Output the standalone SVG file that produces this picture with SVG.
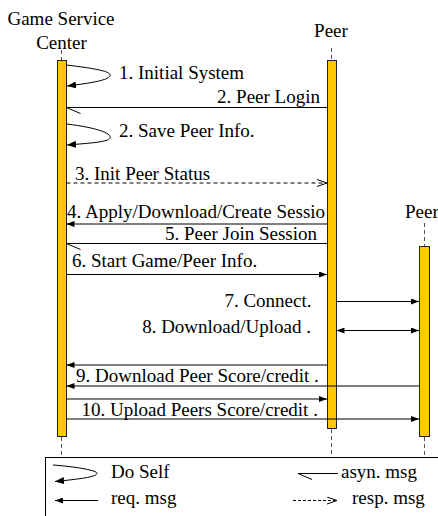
<svg xmlns="http://www.w3.org/2000/svg" width="438" height="516" viewBox="0 0 438 516">
  <style>
    text { font-family: "Liberation Serif", serif; font-size: 19px; fill: #000; }
    .bar { fill: #FFC800; stroke: #222; stroke-width: 1; }
    .life { stroke: #555; stroke-width: 1; stroke-dasharray: 4 3; fill: none; }
    .msg { stroke: #000; stroke-width: 1; fill: none; }
    .req { marker-end: url(#arrow); }
    .req-back { marker-start: url(#arrowStart); }
    .resp { stroke-dasharray: 4 3; marker-end: url(#open); }
    .asyn { marker-end: url(#half); }
    .self { marker-end: url(#selfArrow); }
    .mid { text-anchor: middle; }
    .end { text-anchor: end; }
  </style>
  <defs>
    <marker id="arrow" viewBox="0 0 8 6" refX="8" refY="3" markerWidth="8" markerHeight="6" markerUnits="userSpaceOnUse" orient="auto">
      <path d="M0,0 L8,3 L0,6 z" fill="#000"/>
    </marker>
    <marker id="arrowStart" viewBox="0 0 8 6" refX="8" refY="3" markerWidth="8" markerHeight="6" markerUnits="userSpaceOnUse" orient="auto-start-reverse">
      <path d="M0,0 L8,3 L0,6 z" fill="#000"/>
    </marker>
    <marker id="selfArrow" viewBox="0 0 9 7" refX="9" refY="3.5" markerWidth="9" markerHeight="7" markerUnits="userSpaceOnUse" orient="auto">
      <path d="M0,0 L9,3.5 L0,7 z" fill="#000"/>
    </marker>
    <marker id="open" viewBox="0 0 10 8" refX="10" refY="4" markerWidth="10" markerHeight="8" markerUnits="userSpaceOnUse" orient="auto">
      <path d="M0,0.5 L10,4 L0,7.5" fill="none" stroke="#000" stroke-width="1"/>
    </marker>
    <marker id="half" viewBox="-15 -8 16 9" refX="0" refY="0" markerWidth="16" markerHeight="9" markerUnits="userSpaceOnUse" orient="auto">
      <path d="M0,0 L-14,-6" fill="none" stroke="#000" stroke-width="1"/>
    </marker>
  </defs>

  <!-- Game Service Center lifeline -->
  <g id="game-service-center">
    <text class="mid" x="61" y="25">Game Service</text>
    <text class="mid" x="61.5" y="49">Center</text>
    <line class="life" x1="61.5" y1="50" x2="61.5" y2="60"/>
    <rect class="bar" x="57.5" y="60.5" width="9" height="376"/>
    <line class="life" x1="61.5" y1="437" x2="61.5" y2="455"/>
  </g>

  <!-- Peer lifeline -->
  <g id="peer">
    <text class="mid" x="331" y="37">Peer</text>
    <line class="life" x1="331.5" y1="48" x2="331.5" y2="60"/>
    <rect class="bar" x="327.5" y="60.5" width="9" height="368"/>
    <line class="life" x1="331.5" y1="429" x2="331.5" y2="455"/>
  </g>

  <!-- second Peer lifeline -->
  <g id="peer-2">
    <text x="405" y="218">Peer</text>
    <line class="life" x1="424.5" y1="223" x2="424.5" y2="246"/>
    <rect class="bar" x="419.5" y="246.5" width="10" height="190"/>
    <line class="life" x1="424.5" y1="437" x2="424.5" y2="455"/>
  </g>

  <!-- messages -->
  <g id="connectors">
    <path class="msg self" d="M66.5,65 C100,69 112,72 110,76 C108,80 92,83 67,86"/>
    <text x="119" y="79">1. Initial System</text>

    <line class="msg asyn" x1="327" y1="107.5" x2="66.5" y2="107.5"/>
    <text class="end" x="320" y="103">2. Peer Login</text>

    <path class="msg self" d="M66.5,124 C100,128 112,134 110,138 C108,142 92,143 67,145"/>
    <text x="119" y="137">2. Save Peer Info.</text>

    <line class="msg resp" x1="66.5" y1="183" x2="327" y2="183"/>
    <text x="75" y="180">3. Init Peer Status</text>

    <line class="msg req-back" x1="66.5" y1="224" x2="327" y2="224"/>
    <text x="67" y="218">4. Apply/Download/Create Sessio</text>

    <line class="msg asyn" x1="327" y1="243.5" x2="66.5" y2="243.5"/>
    <text class="end" x="317" y="240">5. Peer Join Session</text>

    <line class="msg req" x1="66.5" y1="274.5" x2="327" y2="274.5"/>
    <text x="72" y="267">6. Start Game/Peer Info.</text>

    <line class="msg req" x1="336.5" y1="301.5" x2="419" y2="301.5"/>
    <text class="end" x="311.5" y="306.5">7. Connect.</text>

    <line class="msg req req-back" x1="336.5" y1="330.5" x2="419" y2="330.5"/>
    <text class="end" x="311" y="333">8. Download/Upload .</text>

    <line class="msg req-back" x1="66.5" y1="365" x2="327" y2="365"/>
    <line class="msg req-back" x1="66.5" y1="386" x2="419" y2="386"/>
    <text x="76" y="381.5">9. Download Peer Score/credit .</text>

    <line class="msg req" x1="66.5" y1="399" x2="327" y2="399"/>
    <line class="msg req" x1="66.5" y1="419" x2="419" y2="419"/>
    <text x="81.5" y="416">10. Upload Peers Score/credit .</text>
  </g>

  <!-- key to the message kinds -->
  <g id="legend">
    <rect x="45.5" y="457.5" width="400" height="70" fill="#fff" stroke="#000" stroke-width="1"/>
    <path class="msg self" d="M53,465 C80,467 98,471 97,473.5 C96,477 80,479 55,481.5"/>
    <text x="111" y="478">Do Self</text>
    <line class="msg asyn" x1="338" y1="473.5" x2="298" y2="473.5"/>
    <text x="341" y="478">asyn. msg</text>
    <line class="msg req-back" x1="55" y1="500.5" x2="98" y2="500.5"/>
    <text x="111" y="504">req. msg</text>
    <line class="msg resp" x1="293" y1="500.5" x2="337" y2="500.5" style="stroke-dasharray:3 2"/>
    <text x="352" y="504">resp. msg</text>
  </g>
</svg>
